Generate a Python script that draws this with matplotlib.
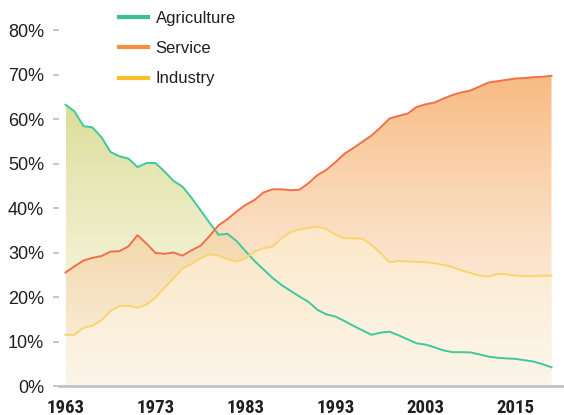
import matplotlib
matplotlib.use('Agg')
import matplotlib.pyplot as plt
from matplotlib import font_manager as fm
from matplotlib.colors import to_rgb
from matplotlib.lines import Line2D
import numpy as np

# Share of employment by sector (%), one value per point along the x axis
agriculture = [63.2, 61.7, 58.4, 58.1, 55.9, 52.6, 51.6, 51.1, 49.2, 50.1,
               50.1, 48.2, 46.1, 44.8, 42.3, 39.5, 36.7, 34.0, 34.2, 32.6,
               30.3, 28.1, 26.2, 24.3, 22.7, 21.4, 20.1, 18.9, 17.1, 16.1,
               15.6, 14.6, 13.5, 12.5, 11.5, 12.0, 12.2, 11.4, 10.5, 9.6,
               9.3, 8.7, 8.0, 7.6, 7.6, 7.55, 7.1, 6.6, 6.35, 6.2,
               6.1, 5.8, 5.5, 4.9, 4.2]
service = [25.5, 26.9, 28.2, 28.8, 29.2, 30.2, 30.3, 31.4, 33.9, 32.0,
           29.9, 29.7, 30.0, 29.3, 30.5, 31.5, 33.7, 36.1, 37.5, 39.2,
           40.7, 41.8, 43.5, 44.2, 44.2, 44.0, 44.1, 45.6, 47.4, 48.6,
           50.3, 52.2, 53.5, 54.9, 56.3, 58.1, 60.1, 60.7, 61.2, 62.7,
           63.3, 63.7, 64.6, 65.4, 66.0, 66.4, 67.3, 68.2, 68.5, 68.8,
           69.1, 69.2, 69.4, 69.5, 69.7]
industry = [11.5, 11.5, 13.1, 13.5, 14.8, 16.9, 18.0, 18.0, 17.6, 18.3,
            19.9, 22.1, 24.2, 26.4, 27.4, 28.7, 29.6, 29.3, 28.5, 28.0,
            28.7, 30.2, 31.0, 31.3, 33.2, 34.6, 35.2, 35.5, 35.8, 35.3,
            34.0, 33.2, 33.2, 33.1, 31.7, 29.9, 27.8, 28.1, 28.0, 27.9,
            27.8, 27.6, 27.2, 26.7, 26.0, 25.4, 24.8, 24.6, 25.2, 25.1,
            24.8, 24.7, 24.7, 24.8, 24.8]

tick_index = [0, 10, 20, 30, 40, 50]
tick_labels = ['1963', '1973', '1983', '1993', '2003', '2015']
y_ticks = [0, 10, 20, 30, 40, 50, 60, 70, 80]

# name, values, line colour, legend colour, fill top, fill bottom, alpha top, alpha bottom
series = [
    ('Agriculture', agriculture, '#3ec99c', '#3dbf9a', '#d6d886', '#f2f0cc', 0.85, 0.35),
    ('Service', service, '#f26f4c', '#f4903f', '#f7ae6a', '#fbe3c8', 0.85, 0.35),
    ('Industry', industry, '#fbd36f', '#fbbf2a', '#fdebcb', '#fdf9f0', 0.8, 0.6),
]

text_color = '#1f1f1f'


def pick_family(candidates, weight='normal', stretch='normal'):
    # first installed family out of the candidates
    for fam in candidates:
        try:
            fm.findfont(fm.FontProperties(family=fam, weight=weight, stretch=stretch),
                        fallback_to_default=False)
            return fam
        except ValueError:
            continue
    return 'DejaVu Sans'


narrow = pick_family(['Roboto Condensed', 'Liberation Sans Narrow', 'Open Sans Condensed',
                      'DejaVu Sans Condensed'], weight='bold')
narrow_size = 13.5 if narrow != 'DejaVu Sans' else 11

fig = plt.figure(figsize=(5.64, 4.15), dpi=100)
ax = fig.add_axes([59 / 564, 29 / 415, 505 / 564, (386 - 7.75) / 415])

x = np.arange(len(agriculture))

for name, vals, line_c, leg_c, top_c, bot_c, a_top, a_bot in series:
    vals = np.array(vals)
    poly = ax.fill_between(x, 0, vals, facecolor='none', edgecolor='none')
    # vertical gradient clipped to the area under the line
    n = 256
    t = np.linspace(0, 1, n)[:, None]
    rgb = np.array(to_rgb(bot_c)) * (1 - t) + np.array(to_rgb(top_c)) * t
    alpha = a_bot * (1 - t) + a_top * t
    grad = np.concatenate([rgb, alpha], axis=1)[:, None, :]
    im = ax.imshow(grad, extent=[x[0], x[-1], 0, vals.max()], origin='lower',
                   aspect='auto', interpolation='bilinear', zorder=1)
    im.set_clip_path(poly.get_paths()[0], transform=ax.transData)

for name, vals, line_c, leg_c, top_c, bot_c, a_top, a_bot in series:
    ax.plot(x, vals, color=line_c, lw=1.4, zorder=3, solid_joinstyle='round')

ax.set_xlim((59 - 65.5) / 9.0, (564 - 65.5) / 9.0)
ax.set_ylim(0, 85)

for s in ['top', 'right', 'left']:
    ax.spines[s].set_visible(False)
ax.spines['bottom'].set_color('#c2c2c2')
ax.spines['bottom'].set_linewidth(2.0)
ax.spines['bottom'].set_zorder(5)

ax.set_yticks(y_ticks)
ax.set_yticklabels([f'{v}%' for v in y_ticks])
ax.tick_params(axis='y', length=4.3, width=1.2, color='#bdbdbd', pad=6.5,
               labelsize=13, labelcolor=text_color)
for lab in ax.get_yticklabels():
    lab.set_family(['Liberation Sans', 'DejaVu Sans'])

ax.set_xticks(tick_index)
ax.set_xticklabels(tick_labels)
ax.tick_params(axis='x', length=0, pad=9, labelsize=narrow_size, labelcolor=text_color)
for lab in ax.get_xticklabels():
    lab.set_family([narrow, 'DejaVu Sans'])
    lab.set_fontweight('bold')
    if narrow == 'DejaVu Sans':
        lab.set_fontstretch('condensed')

handles = [Line2D([0], [0], color=s[3], lw=3) for s in series]
leg = fig.legend(handles, [s[0] for s in series], loc='upper left',
                 bbox_to_anchor=(119 / 564, 1 - 10.5 / 415), frameon=False,
                 borderaxespad=0, borderpad=0, handlelength=1.75,
                 handletextpad=0.45, labelspacing=0.93,
                 prop={'family': ['Liberation Sans', 'DejaVu Sans'], 'size': 12})
for t in leg.get_texts():
    t.set_color(text_color)

fig.savefig('out.png', dpi=100)
